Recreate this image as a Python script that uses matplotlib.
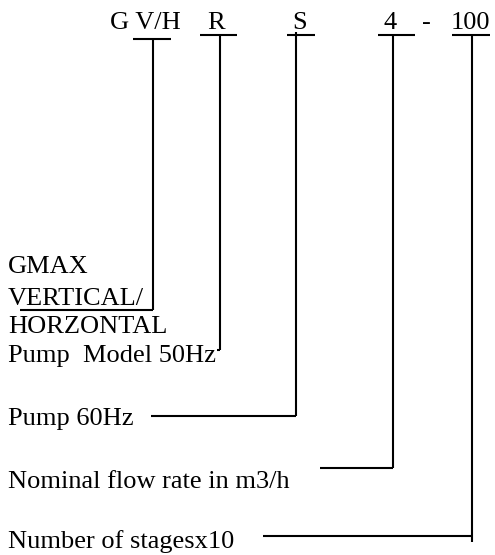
import matplotlib
matplotlib.use("Agg")
import matplotlib.pyplot as plt

# Code parts on the top row and their meaning
codes = ["G V/H", "R", "S", "4", "-", "100"]
code_x = [110, 207, 292, 384, 422, 451]          # left edge of each code text (px)
code_y = 29                                       # baseline (px)

# Left column description texts
labels = ["GMAX", "VERTICAL/", "HORZONTAL", "Pump  Model 50Hz",
          "Pump 60Hz", "Nominal flow rate in m3/h", "Number of stagesx10"]
label_y = [273, 305, 333, 362, 425, 488, 548]     # baselines (px)
label_x = 8

# Leader lines: underline span, vertical x, top y, bottom y, connector start x, connector y
under_x0 = [133, 200, 287, 378, 452]
under_x1 = [171, 237, 315, 415, 490]
under_y = [39, 35, 35, 35, 35]
vert_x = [153, 220, 296, 393, 472]
vert_top = [39, 35, 32, 35, 35]
vert_bot = [310, 350, 416, 468, 542]
conn_x0 = [20, 217, 151, 320, 263]
conn_y = [310, 350, 416, 468, 536]

W, H = 495, 555
fig = plt.figure(figsize=(W / 100, H / 100), dpi=100)
ax = fig.add_axes([0, 0, 1, 1])
ax.set_xlim(0, W)
ax.set_ylim(H, 0)
ax.axis("off")

font = dict(family="Liberation Serif", fontsize=19, color="black")

for t, x in zip(codes, code_x):
    ax.text(x, code_y, t, ha="left", va="baseline", **font)

for t, y in zip(labels, label_y):
    ax.text(label_x, y, t, ha="left", va="baseline", **font)

lw = 1.5
for i in range(len(vert_x)):
    ax.plot([under_x0[i], under_x1[i]], [under_y[i], under_y[i]], color="black", lw=lw, solid_capstyle="butt")
    ax.plot([vert_x[i], vert_x[i]], [vert_top[i], vert_bot[i]], color="black", lw=lw, solid_capstyle="butt")
    ax.plot([conn_x0[i], vert_x[i]], [conn_y[i], conn_y[i]], color="black", lw=lw, solid_capstyle="butt")

fig.savefig("out.png", dpi=100, facecolor="white")
